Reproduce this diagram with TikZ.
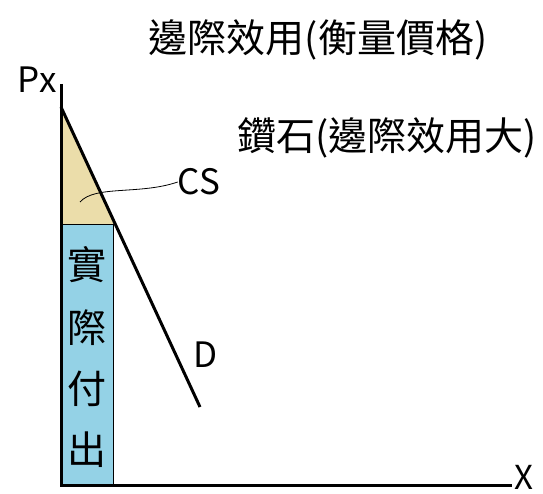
\documentclass[tikz,border=0pt]{standalone}
\usepackage{fontspec}
\setmainfont{Noto Sans CJK TC}
\begin{document}
\begin{tikzpicture}[x=1pt,y=-1pt,
  lbl/.style={inner sep=0pt,font=\fontsize{35}{40}\selectfont},
  cjk/.style={inner sep=0pt,font=\fontsize{39}{44}\selectfont},
  axis/.style={line width=3pt},
  dline/.style={line width=3pt}]
\useasboundingbox (0,0) rectangle (543,494);
\coordinate (top) at (61,107);
\coordinate (mid) at (115,224);
\coordinate (corner) at (61,224);
\coordinate (bot) at (200,407);
\coordinate (rb) at (113,485);
\coordinate (o) at (61,485);
\coordinate (ytop) at (61,84);
\coordinate (xend) at (512,485);
\fill[fill={rgb,255:red,235;green,221;blue,170}] (top) -- (corner) -- (mid) -- cycle;
\fill[fill={rgb,255:red,148;green,210;blue,230}] (corner) rectangle (rb);
\draw[line width=0.8pt] (corner) -- (mid);
\draw[line width=0.8pt] (113,224) -- (rb);
\draw[dline] (top) -- (bot);
\draw[axis] (ytop) -- (o) -- (xend);
\node[lbl] (px) at (37,80) {Px};
\node[lbl,font=\fontsize{33}{38}\selectfont] (x) at (524,477) {X};
\node[cjk] (t1) at (318,40) {邊際效用(衡量價格)};
\node[cjk] (t2) at (387,138) {鑽石(邊際效用大)};
\node[lbl] (cs) at (199,182) {CS};
\node[lbl] (d) at (206,355) {D};
\coordinate (csend) at (80,202);
\draw[line width=0.8pt] (csend) .. controls (95,185) and (140,195) .. (cs.west);
\node[cjk] (c1) at (87,265) {實};
\node[cjk] (c2) at (87,328) {際};
\node[cjk] (c3) at (87,389) {付};
\node[cjk] (c4) at (87,450) {出};
\end{tikzpicture}
\end{document}
